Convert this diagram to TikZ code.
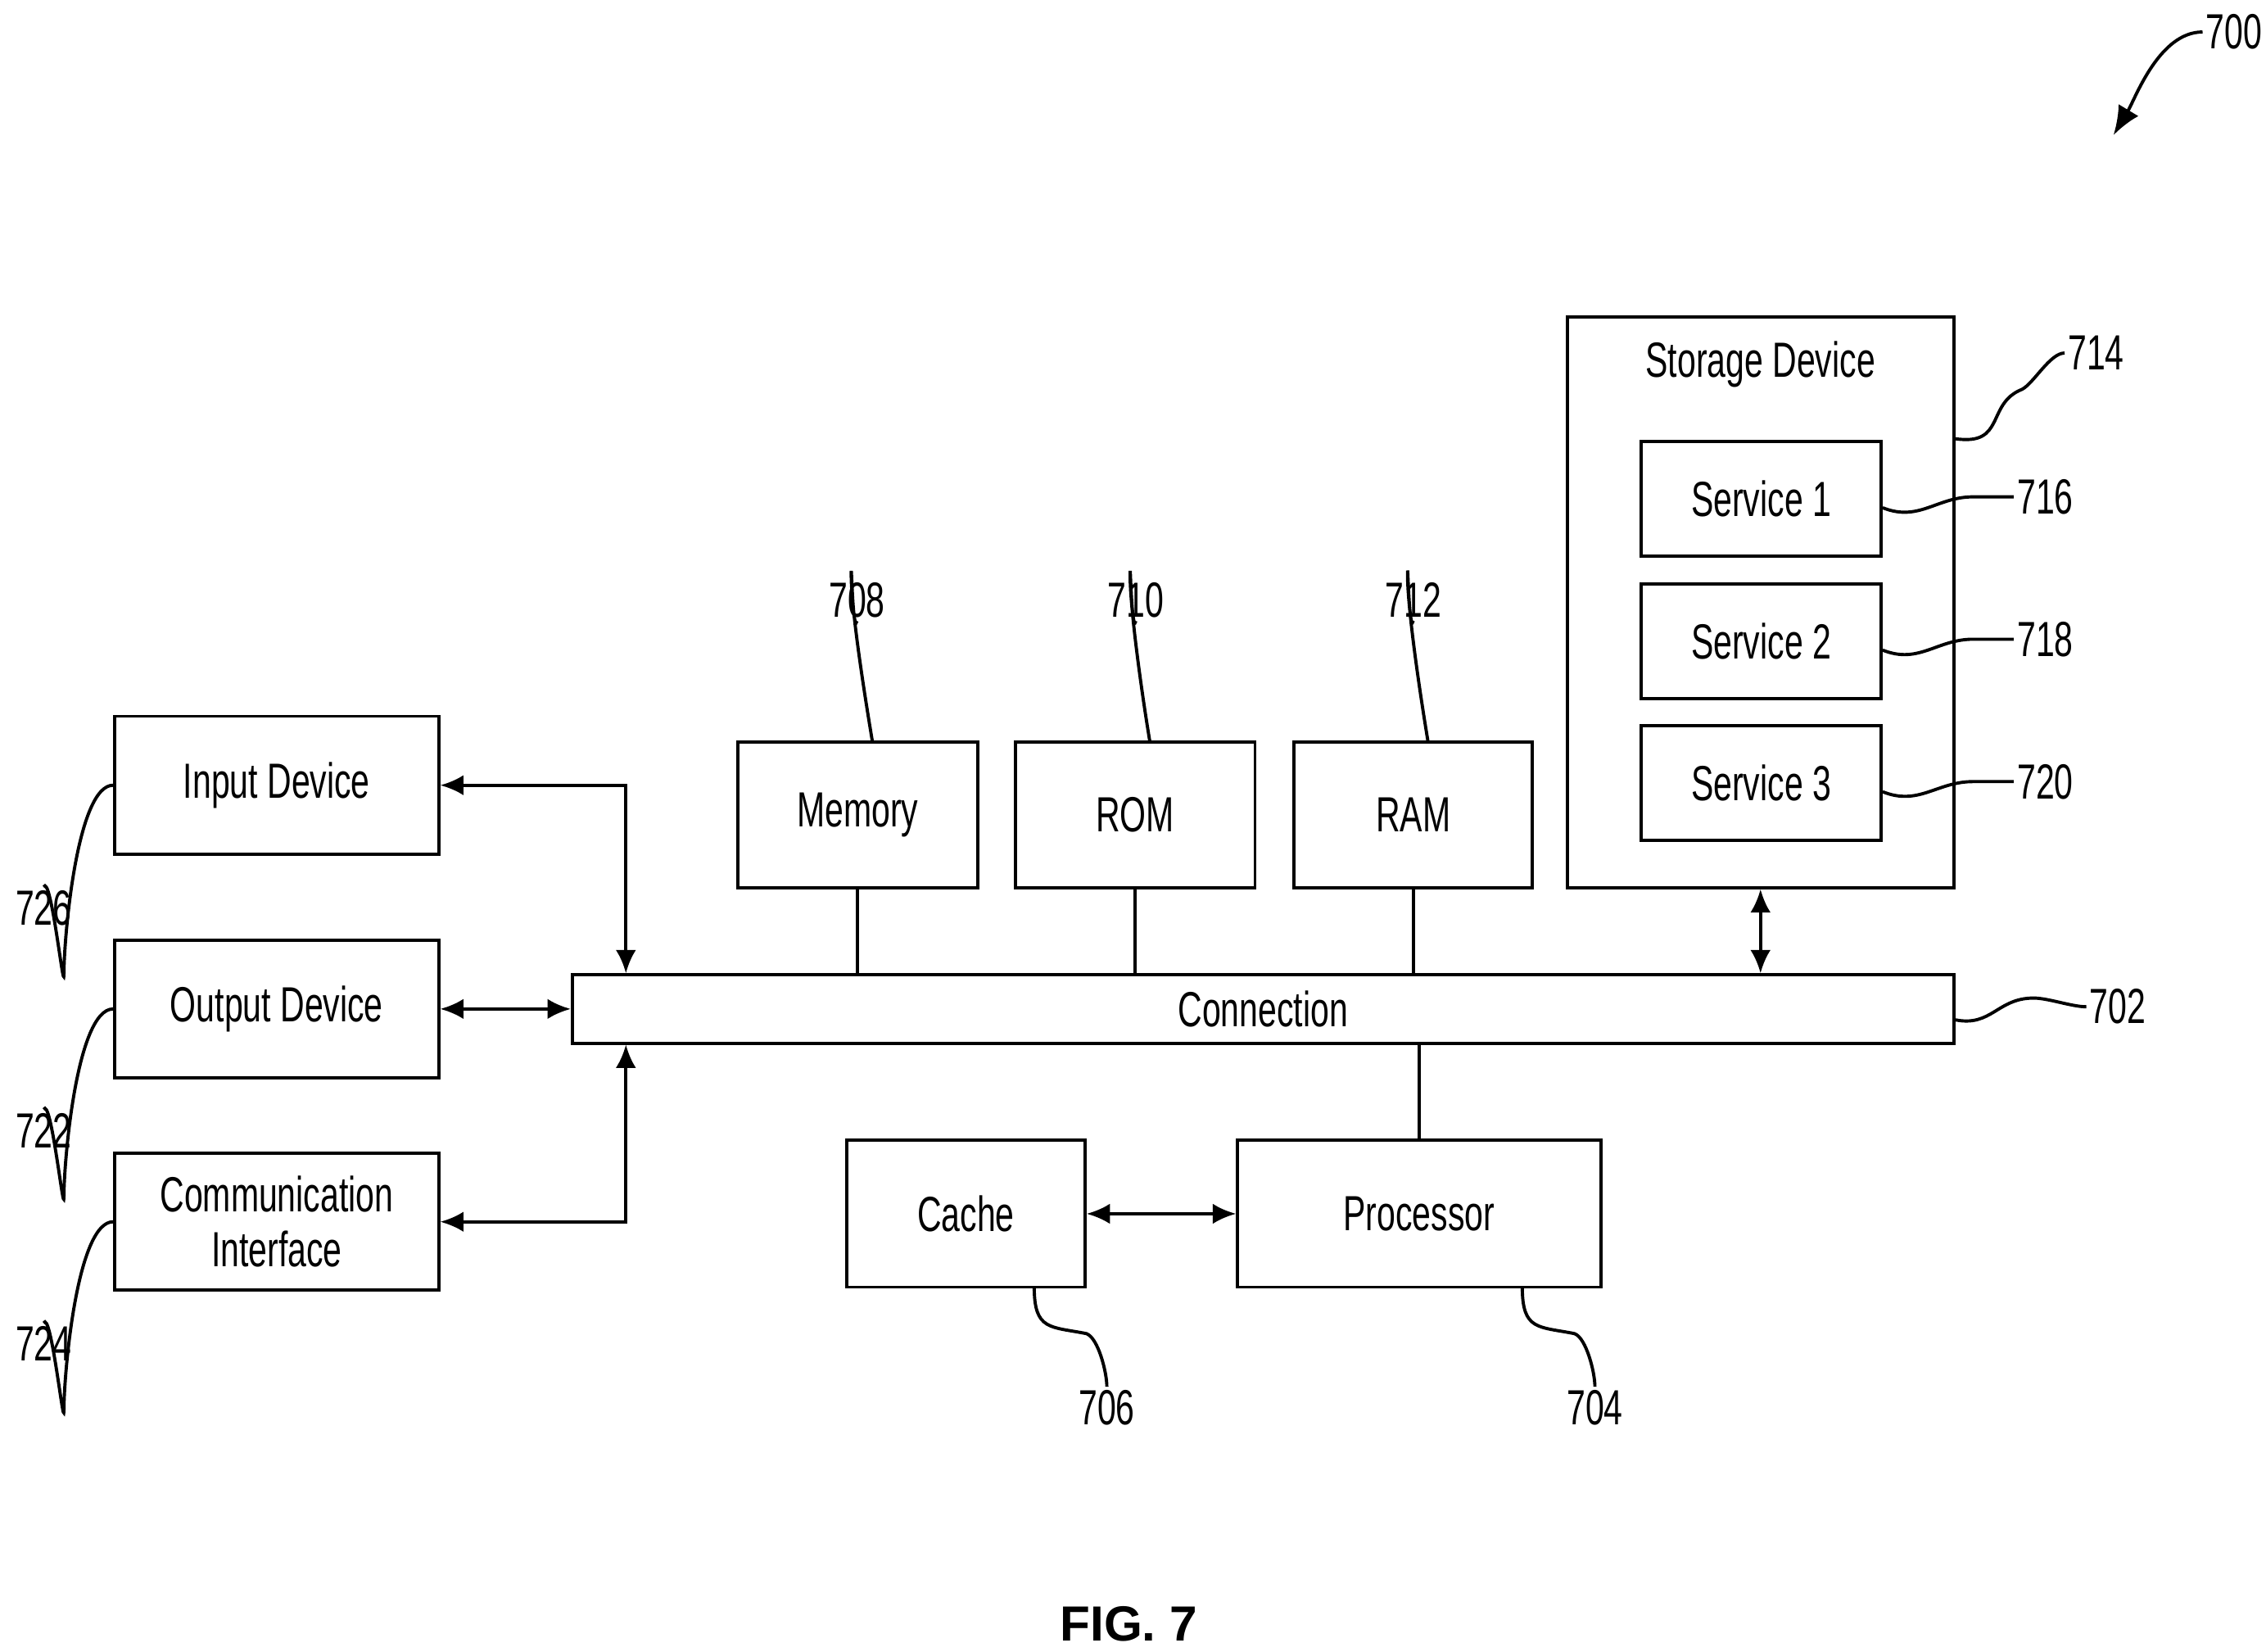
\documentclass[tikz,border=0pt]{standalone}
\usepackage{fontspec}
\setmainfont{Liberation Sans}[FakeStretch=0.68]
\newfontfamily\figfont{Liberation Sans}
\usetikzlibrary{arrows.meta}
\begin{document}
\begin{tikzpicture}[x=0.5pt,y=-0.5pt,
  box/.style={draw,line width=1.1pt,inner sep=0pt,align=center,font=\fontsize{17}{19}\selectfont},
  lab/.style={font=\fontsize{17}{19}\selectfont,inner sep=1pt},
  ln/.style={line width=1.1pt},
  arr/.style={line width=1.1pt,{Latex[length=8pt,width=7pt]}-{Latex[length=8pt,width=7pt]}},
  sq/.style={line width=1.1pt}]
\useasboundingbox (0,0) rectangle (1560,1137);
\node[box,minimum width=111.5pt,minimum height=47.5pt] (in) at (190.5,540.5) {Input Device};
\node[box,minimum width=111.5pt,minimum height=47.5pt] (out) at (190.5,694.5) {Output Device};
\node[box,minimum width=111.5pt,minimum height=47pt] (com) at (190.5,841) {Communication\\Interface};
\node[box,minimum width=475.5pt,minimum height=23.5pt] (conn) at (869.5,694.5) {Connection};
\node[box,minimum width=82.5pt,minimum height=50pt] (mem) at (590.5,561) {Memory};
\node[box,minimum width=82.5pt,minimum height=50pt] (rom) at (781.5,561) {ROM};
\node[box,minimum width=82pt,minimum height=50pt] (ram) at (973,561) {RAM};
\node[box,minimum width=133pt,minimum height=196.5pt] (sto) at (1212,414.5) {};
\node[lab] (stot) at (1212,251) {Storage Device};
\node[box,minimum width=82.5pt,minimum height=39.5pt] (s1) at (1212.5,343.5) {Service 1};
\node[box,minimum width=82.5pt,minimum height=39.5pt] (s2) at (1212.5,441.5) {Service 2};
\node[box,minimum width=82.5pt,minimum height=39.5pt] (s3) at (1212.5,539) {Service 3};
\node[box,minimum width=82pt,minimum height=50.5pt] (cache) at (665,835.5) {Cache};
\node[box,minimum width=125pt,minimum height=50.5pt] (proc) at (977,835.5) {Processor};
% connectors
\draw[arr] (in.east) -| ([xshift=19pt]conn.north west);
\draw[arr] (out.east) -- (conn.west |- out.east);
\draw[arr] (com.east) -| ([xshift=19pt]conn.south west);
\draw[ln] (mem.south) -- (mem.south |- conn.north);
\draw[ln] (rom.south) -- (rom.south |- conn.north);
\draw[ln] (ram.south) -- (ram.south |- conn.north);
\draw[ln] (proc.north) -- (proc.north |- conn.south);
\draw[arr] (sto.south) -- (sto.south |- conn.north);
\draw[arr] (cache.east) -- (proc.west);
% labels
\node[lab] (l708) at (590,413) {708};
\node[lab] (l710) at (782,413) {710};
\node[lab] (l712) at (973,413) {712};
\node[lab] (l714) at (1443,243) {714};
\node[lab] (l716) at (1408,342) {716};
\node[lab] (l718) at (1408,440) {718};
\node[lab] (l720) at (1408,538) {720};
\node[lab] (l702) at (1458,693) {702};
\node[lab] (l706) at (762,969) {706};
\node[lab] (l704) at (1098,969) {704};
\node[lab] (l726) at (30,625) {726};
\node[lab] (l722) at (30,778) {722};
\node[lab] (l724) at (30,925) {724};
\node[lab] (l700) at (1538,22) {700};
\node[font=\figfont\bfseries\fontsize{17}{19}\selectfont] (fig) at (777,1118) {FIG. 7};
% squiggles
\foreach \b/\l in {mem/l708,rom/l710,ram/l712}{
  \draw[sq] ([xshift=5pt]\b.north) .. controls +(-5,-30) and +(0,25) .. ([xshift=-2pt,yshift=16pt]\l.south) .. controls +(0,-15) and +(-3,10) .. (\l.south);
}
\foreach \b/\l in {s1/l716,s2/l718,s3/l720}{
  \draw[sq] ([yshift=-3pt]\b.east) .. controls +(25,10) and +(-25,0) .. ([xshift=-14pt]\l.west) .. controls +(10,0) and +(-10,0) .. (\l.west);
}
\draw[sq] (sto.east |- 0,302) .. controls +(35,5) and +(-25,10) .. (1392,268) .. controls +(8,-4) and +(-10,0) .. (l714.west);
\draw[sq] (conn.east |- 0,702) .. controls +(25,5) and +(-25,0) .. (1400,687) .. controls +(10,0) and +(-10,0) .. (l702.west);
\draw[sq] (712,886) .. controls +(0,30) and +(-25,-5) .. (748,918) .. controls +(8,3) and +(0,-10) .. (l706.north);
\draw[sq] (1048,886) .. controls +(0,30) and +(-25,-5) .. (1084,918) .. controls +(8,3) and +(0,-10) .. (l704.north);
\foreach \b/\l in {in/l726,out/l722,com/l724}{
  \draw[sq] (\b.west) .. controls +(-25,0) and +(0,-25) .. ([xshift=7pt,yshift=-30pt]\l.north) .. controls +(0,15) and +(5,-10) .. (\l.north);
}
\draw[sq,-{Latex[length=10pt,width=8pt]}] (l700.west) .. controls +(-30,0) and +(15,-25) .. (1455,93);
\end{tikzpicture}
\end{document}
